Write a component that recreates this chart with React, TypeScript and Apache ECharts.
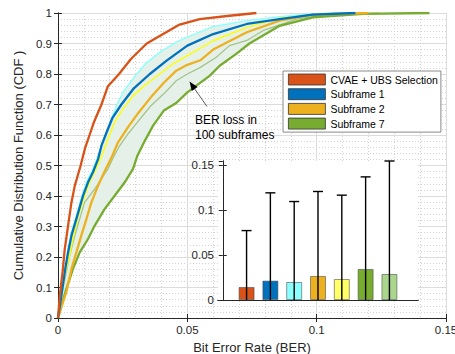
import React, { useEffect, useRef } from "react";
import * as echarts from "echarts";

// CDF curves as [BER, CDF] pairs
const cvaeUbs: number[][] = [
  [0, 0], [0.0007, 0.073], [0.0019, 0.161], [0.0026, 0.226], [0.0039, 0.303], [0.0052, 0.379],
  [0.0065, 0.434], [0.0086, 0.495], [0.0104, 0.555], [0.0122, 0.6], [0.0138, 0.64], [0.0168, 0.7],
  [0.0193, 0.76], [0.0236, 0.8], [0.0282, 0.849], [0.0343, 0.9], [0.047, 0.962], [0.0548, 0.98],
  [0.0663, 0.991], [0.0767, 1.0],
];
const subframe1: number[][] = [
  [0, 0], [0.0013, 0.073], [0.0026, 0.15], [0.0039, 0.215], [0.0052, 0.27], [0.0071, 0.325],
  [0.0097, 0.401], [0.0116, 0.445], [0.0135, 0.478], [0.0155, 0.521], [0.0168, 0.565], [0.0188, 0.609],
  [0.021, 0.655], [0.0245, 0.7], [0.0291, 0.751], [0.0355, 0.8], [0.042, 0.844], [0.05, 0.893],
  [0.06, 0.931], [0.073, 0.964], [0.0857, 0.98], [0.0985, 0.995], [0.115, 1.0],
];
const subframeBest: number[][] = [
  [0, 0], [0.0012, 0.075], [0.0025, 0.155], [0.0037, 0.22], [0.005, 0.275], [0.0069, 0.33],
  [0.0094, 0.405], [0.0112, 0.45], [0.0132, 0.483], [0.0152, 0.525], [0.0172, 0.575], [0.019, 0.615],
  [0.0205, 0.65], [0.0225, 0.695], [0.0255, 0.745], [0.0295, 0.79], [0.034, 0.835], [0.04, 0.875],
  [0.047, 0.91], [0.0599, 0.955], [0.0728, 0.975], [0.0857, 0.988], [0.0985, 0.998], [0.11, 1.0],
];
const subframeYellow: number[][] = [
  [0, 0], [0.0013, 0.07], [0.0026, 0.14], [0.0045, 0.205], [0.0058, 0.26], [0.0077, 0.33],
  [0.0103, 0.4], [0.0122, 0.445], [0.0148, 0.49], [0.0174, 0.543], [0.0193, 0.587], [0.0219, 0.642],
  [0.0251, 0.685], [0.029, 0.729], [0.0342, 0.767], [0.0393, 0.8], [0.0444, 0.833], [0.05, 0.86],
  [0.06, 0.909], [0.073, 0.953], [0.0857, 0.983], [0.0985, 0.998], [0.11, 1.0],
];
const subframe2: number[][] = [
  [0, 0], [0.0013, 0.035], [0.0032, 0.084], [0.0052, 0.161], [0.0071, 0.215], [0.009, 0.27],
  [0.011, 0.325], [0.0129, 0.379], [0.0155, 0.434], [0.018, 0.48], [0.021, 0.532], [0.0232, 0.576],
  [0.0274, 0.63], [0.0312, 0.674], [0.0364, 0.729], [0.041, 0.772], [0.0457, 0.811], [0.05, 0.83],
  [0.055, 0.845], [0.06, 0.88], [0.073, 0.937], [0.0857, 0.975], [0.0985, 0.995], [0.12, 1.0],
];
const subframeLight: number[][] = [
  [0, 0], [0.0013, 0.073], [0.0032, 0.15], [0.0045, 0.204], [0.0065, 0.27], [0.0084, 0.325],
  [0.0103, 0.379], [0.0142, 0.423], [0.0193, 0.489], [0.0213, 0.525], [0.0235, 0.56], [0.0272, 0.605],
  [0.0312, 0.647], [0.0358, 0.695], [0.0409, 0.735], [0.0457, 0.778], [0.05, 0.8], [0.0547, 0.82],
  [0.0612, 0.855], [0.0663, 0.893], [0.073, 0.91], [0.0792, 0.942], [0.0921, 0.98], [0.105, 0.997],
  [0.1243, 1.0],
];
const subframe7: number[][] = [
  [0, 0], [0.0013, 0.04], [0.0032, 0.095], [0.0058, 0.161], [0.0084, 0.215], [0.0116, 0.259],
  [0.0142, 0.303], [0.018, 0.357], [0.0219, 0.401], [0.0258, 0.445], [0.029, 0.489], [0.0306, 0.53],
  [0.0335, 0.58], [0.0367, 0.63], [0.0409, 0.68], [0.0457, 0.705], [0.05, 0.74], [0.0535, 0.762],
  [0.0586, 0.794], [0.0625, 0.827], [0.0689, 0.866], [0.074, 0.9], [0.0857, 0.958], [0.0985, 0.986],
  [0.118, 0.997], [0.1436, 1.0],
];

// inset bar chart
const insetPositions = [1, 2, 3, 4, 5, 6, 7];
const insetMeans = [0.0145, 0.0216, 0.0201, 0.0268, 0.0234, 0.0346, 0.029];
const insetErrLow = [0, 0, 0, 0, 0, 0, 0];
const insetErrHigh = [0.0774, 0.1195, 0.1098, 0.121, 0.1169, 0.1373, 0.155];
const insetColors = ["#D95319", "#0072BD", "#8CFFFF", "#EDB120", "#FFFF66", "#77AC30", "#A9D68C"];

const TXT = "#262626";
const FONT = "'Liberation Sans', Arial, sans-serif";

export default function App() {
  const ref = useRef<HTMLDivElement>(null);
  useEffect(() => {
    document.body.style.margin = "0";
    const chart = echarts.init(ref.current!, undefined, { renderer: "svg" });
    const envelope = [...subframeBest, ...subframe7.slice().reverse()];

    const lineSeries = (name: string, data: number[][], color: string, width: number, z: number) => ({
      type: "line",
      name,
      data,
      showSymbol: false,
      symbol: "none",
      color,
      itemStyle: { color },
      lineStyle: { color, width },
      xAxisIndex: 0,
      yAxisIndex: 0,
      z,
      silent: true,
    });

    const mainAxisCommon = {
      axisLine: { show: true, lineStyle: { color: TXT, width: 1 } },
      axisTick: { show: true, inside: true, length: 4, lineStyle: { color: TXT } },
    };

    chart.setOption({
      animation: false,
      textStyle: { fontFamily: FONT },
      grid: [
        { left: 58, top: 13, width: 388, height: 305, outerBoundsMode: "none", containLabel: false },
        { left: 218, top: 161, width: 200, height: 139, show: true, backgroundColor: "#ffffff", borderWidth: 0, z: 3, outerBoundsMode: "none" },
      ],
      xAxis: [
        {
          type: "value", gridIndex: 0, min: 0, max: 0.15, interval: 0.05,
          name: "Bit Error Rate (BER)", nameLocation: "middle", nameGap: 21,
          nameTextStyle: { color: TXT, fontSize: 13, fontFamily: FONT },
          ...mainAxisCommon,
          axisLabel: {
            color: TXT, fontSize: 11.5, margin: 6, fontFamily: FONT,
            showMaxLabel: true, showMinLabel: true, hideOverlap: false,
            alignMaxLabel: "center", alignMinLabel: "center",
          },
          splitLine: { show: true, lineStyle: { color: "#DCDCDC", width: 1 } },
          minorTick: { show: false, splitNumber: 5 },
          minorSplitLine: { show: true, lineStyle: { color: "#D3D3D3", type: [1, 2], width: 1 } },
        },
        {
          type: "value", gridIndex: 0, min: 0, max: 0.15, interval: 0.05, position: "top",
          ...mainAxisCommon,
          axisLabel: { show: false }, splitLine: { show: false },
        },
        {
          type: "value", gridIndex: 1, min: -0.2, max: 8.2, z: 4,
          axisLine: { show: true, lineStyle: { color: TXT } },
          axisTick: { show: false }, axisLabel: { show: false }, splitLine: { show: false },
        },
        {
          type: "value", gridIndex: 1, min: -0.2, max: 8.2, position: "top", z: 4,
          axisLine: { show: true, lineStyle: { color: TXT } },
          axisTick: { show: false }, axisLabel: { show: false }, splitLine: { show: false },
        },
      ],
      yAxis: [
        {
          type: "value", gridIndex: 0, min: 0, max: 1, interval: 0.1,
          name: "Cumulative Distribution Function (CDF )", nameLocation: "middle", nameGap: 26,
          nameTextStyle: { color: TXT, fontSize: 13, fontFamily: FONT },
          ...mainAxisCommon,
          axisLabel: { color: TXT, fontSize: 11.5, margin: 6, fontFamily: FONT },
          splitLine: { show: true, lineStyle: { color: "#DCDCDC", width: 1 } },
          minorTick: { show: false, splitNumber: 5 },
          minorSplitLine: { show: true, lineStyle: { color: "#D3D3D3", type: [1, 2], width: 1 } },
        },
        {
          type: "value", gridIndex: 0, min: 0, max: 1, interval: 0.1, position: "right",
          ...mainAxisCommon,
          axisLabel: { show: false }, splitLine: { show: false },
        },
        {
          type: "value", gridIndex: 1, min: 0, max: 0.155, interval: 0.05, z: 4,
          axisLine: { show: true, lineStyle: { color: TXT } },
          axisTick: { show: true, inside: true, length: 4, lineStyle: { color: TXT } },
          axisLabel: { color: TXT, fontSize: 11.5, margin: 4, showMaxLabel: false, fontFamily: FONT },
          splitLine: { show: false },
        },
        {
          type: "value", gridIndex: 1, min: 0, max: 0.155, interval: 0.05, position: "right", z: 4,
          axisLine: { show: true, lineStyle: { color: TXT } },
          axisTick: { show: true, inside: true, length: 4, lineStyle: { color: TXT } },
          axisLabel: { show: false }, splitLine: { show: false },
        },
      ],
      legend: {
        left: 283, top: 71, orient: "vertical",
        data: [
          { name: "CVAE + UBS Selection", icon: "rect" },
          { name: "Subframe 1", icon: "rect" },
          { name: "Subframe 2", icon: "rect" },
          { name: "Subframe 7", icon: "rect" },
        ],
        itemWidth: 37, itemHeight: 11, itemGap: 1.7,
        padding: [2, 3, 2, 5],
        backgroundColor: "#ffffff",
        borderColor: "#8A8A8A", borderWidth: 1, borderRadius: 0,
        itemStyle: { borderColor: "#333333", borderWidth: 0.8 },
        textStyle: { color: "#000000", fontSize: 10.5, lineHeight: 13, fontFamily: FONT },
        selectedMode: false,
        z: 10,
      },
      series: [
        {
          type: "custom",
          name: "envelope",
          xAxisIndex: 0, yAxisIndex: 0,
          data: envelope,
          silent: true,
          z: 1,
          renderItem: (params: any, api: any) => {
            if (params.dataIndex !== 0) return null;
            const pts = envelope.map((p) => api.coord(p));
            return { type: "polygon", shape: { points: pts }, style: { fill: "#E4F0E8", stroke: "none" } };
          },
        },
        lineSeries("Subframe light", subframeLight, "#A5C48A", 1.3, 2),
        lineSeries("Subframe 7", subframe7, "#77AC30", 2.3, 3),
        lineSeries("Subframe yellow", subframeYellow, "#FFFF00", 1.4, 2),
        lineSeries("Subframe 2", subframe2, "#EDB120", 2.3, 3),
        lineSeries("Subframe best", subframeBest, "#8CFFFF", 1.4, 2),
        lineSeries("Subframe 1", subframe1, "#0072BD", 2.3, 3),
        lineSeries("CVAE + UBS Selection", cvaeUbs, "#D95319", 2.3, 3),
        {
          type: "bar",
          xAxisIndex: 2, yAxisIndex: 2,
          barWidth: 16,
          z: 5,
          silent: true,
          data: insetMeans.map((v, i) => ({
            value: [insetPositions[i], v],
            itemStyle: { color: insetColors[i], borderColor: "rgba(70,70,70,0.55)", borderWidth: 1 },
          })),
        },
        {
          type: "custom",
          xAxisIndex: 2, yAxisIndex: 2,
          z: 6,
          silent: true,
          clip: false,
          encode: { x: 0, y: [1, 2] },
          data: insetPositions.map((p, i) => [p, insetErrLow[i], insetErrHigh[i]]),
          renderItem: (params: any, api: any) => {
            const x = api.value(0);
            const lo = api.coord([x, api.value(1)]);
            const hi = api.coord([x, api.value(2)]);
            const half = 5;
            return {
              type: "group",
              children: [
                { type: "line", shape: { x1: lo[0], y1: lo[1], x2: hi[0], y2: hi[1] }, style: { stroke: "#000", lineWidth: 1.4 } },
                { type: "line", shape: { x1: hi[0] - half, y1: hi[1], x2: hi[0] + half, y2: hi[1] }, style: { stroke: "#000", lineWidth: 1.4 } },
              ],
            };
          },
        },
      ],
      graphic: [
        {
          type: "text", left: 195, top: 112.5, z: 20,
          style: { text: "BER loss in\n100 subframes", fill: "#000", font: `12px ${FONT}`, lineHeight: 15 },
        },
        {
          type: "line", z: 20,
          shape: { x1: 194.7, y1: 88.9, x2: 207, y2: 106.5 },
          style: { stroke: "#333", lineWidth: 0.8 },
        },
        {
          type: "polygon", z: 20,
          shape: { points: [[189.5, 81.5], [191.8, 90.9], [197.6, 86.9]] },
          style: { fill: "#000" },
        },
      ],
    });
    return () => chart.dispose();
  }, []);
  return <div ref={ref} style={{ width: 455, height: 354 }} />;
}
